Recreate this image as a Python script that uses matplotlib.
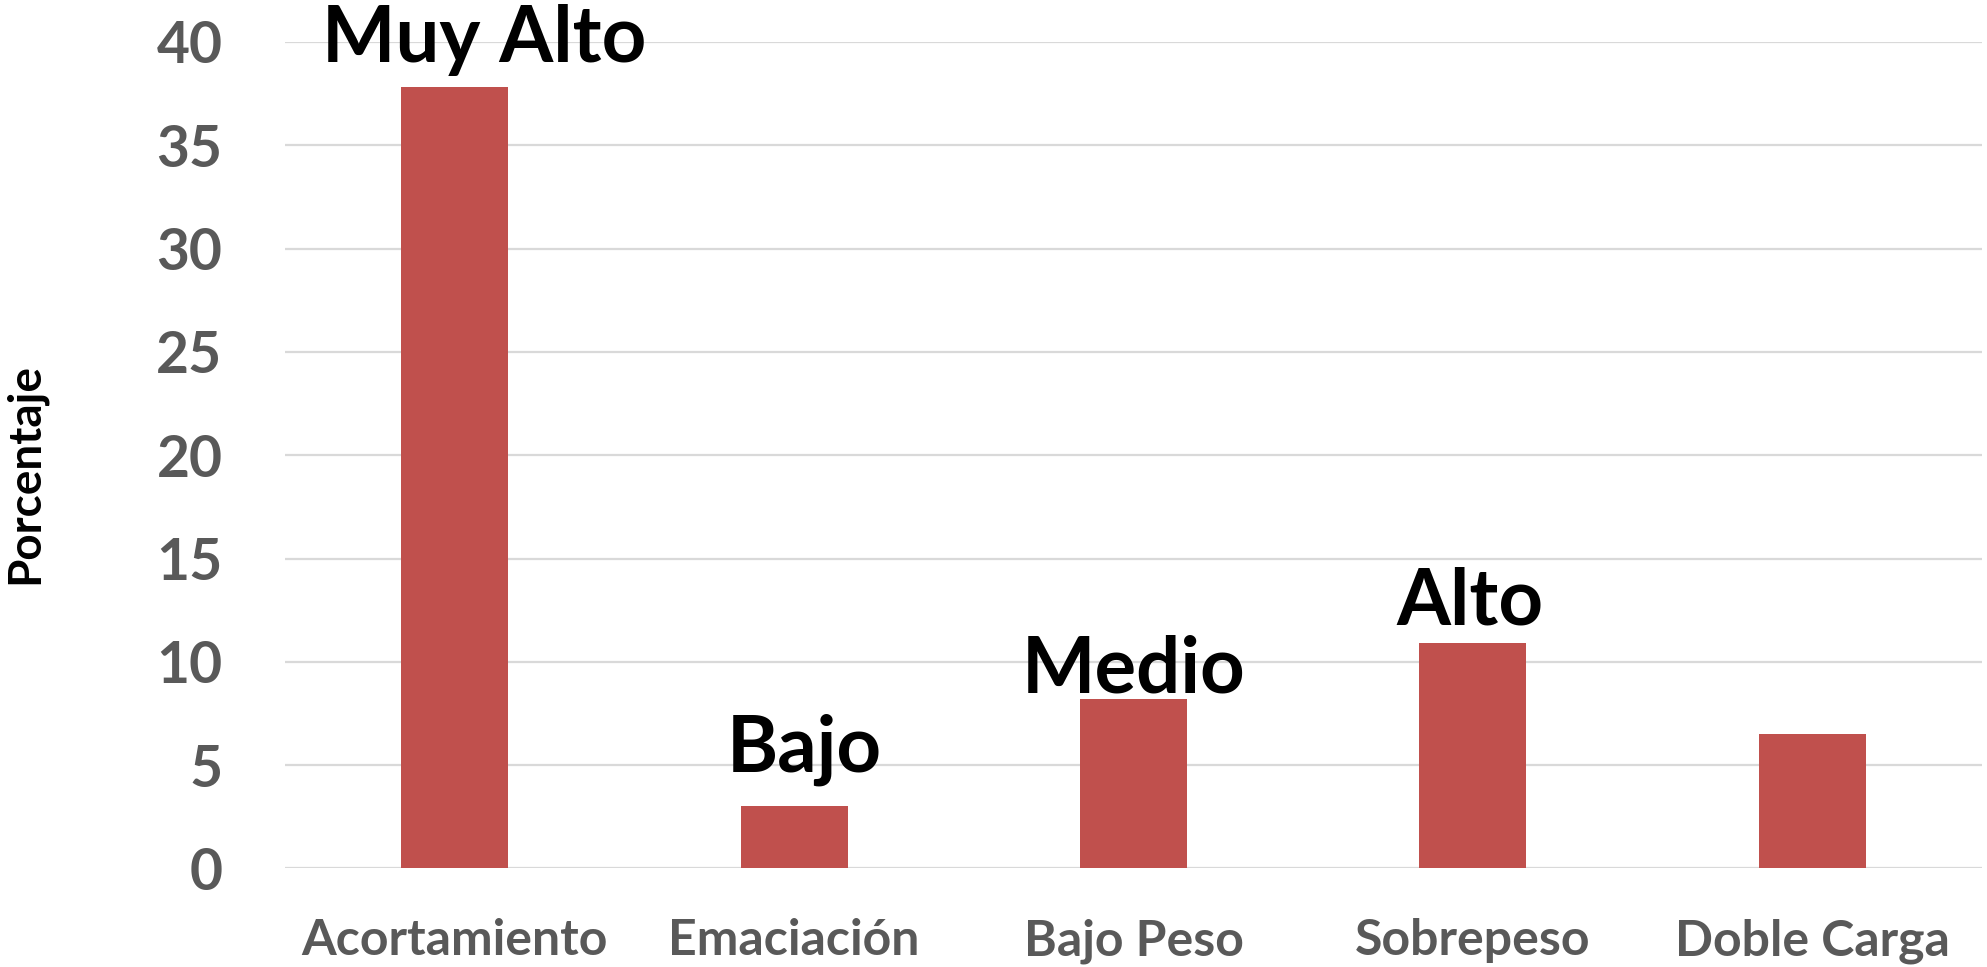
import matplotlib
matplotlib.use("Agg")
import matplotlib.pyplot as plt

categories = ["Acortamiento", "Emaciación", "Bajo Peso", "Sobrepeso", "Doble Carga"]
values = [37.8, 3.0, 8.2, 10.9, 6.5]
yticks = [0, 5, 10, 15, 20, 25, 30, 35, 40]
annotations = ["Muy Alto", "Bajo", "Medio", "Alto"]
annot_x = [0.086, 1.03, 2.0, 2.99]
annot_y = [39.04, 4.67, 8.54, 11.79]

plt.rcParams['font.family'] = ['Lato', 'DejaVu Sans']

fig = plt.figure(figsize=(19.87, 9.67), dpi=100)
ax = fig.add_axes([0.1434, 0.1019, 0.9975 - 0.1434, 0.9566 - 0.1019])

x = list(range(len(categories)))
ax.bar(x, values, width=0.315, color="#C0504D", zorder=3)

ax.set_xlim(-0.5, len(categories) - 0.5)
ax.set_ylim(0, 40)
ax.set_yticks(yticks)
ax.set_yticklabels([str(t) for t in yticks])
ax.set_xticks(x)
ax.set_xticklabels(categories)

ax.grid(axis='y', color="#D9D9D9", linewidth=1.6, zorder=0)
ax.set_axisbelow(True)
for s in ax.spines.values():
    s.set_visible(False)
ax.tick_params(axis='both', length=0)
ax.tick_params(axis='y', pad=45, labelsize=41, labelcolor="#595959")
ax.tick_params(axis='x', pad=36, labelsize=36, labelcolor="#595959")
for lbl in ax.get_yticklabels() + ax.get_xticklabels():
    lbl.set_fontweight('bold')

for t, xx, yy in zip(annotations, annot_x, annot_y):
    ax.text(xx, yy, t, ha='center', va='baseline', fontsize=56,
            fontweight='bold', color='black', zorder=5)

fig.text(25 / 1987, 1 - 473 / 967, "Porcentaje", rotation=90, ha='center',
         va='center', fontsize=33, fontweight='bold', color='black')

fig.savefig("out.png", dpi=100)
